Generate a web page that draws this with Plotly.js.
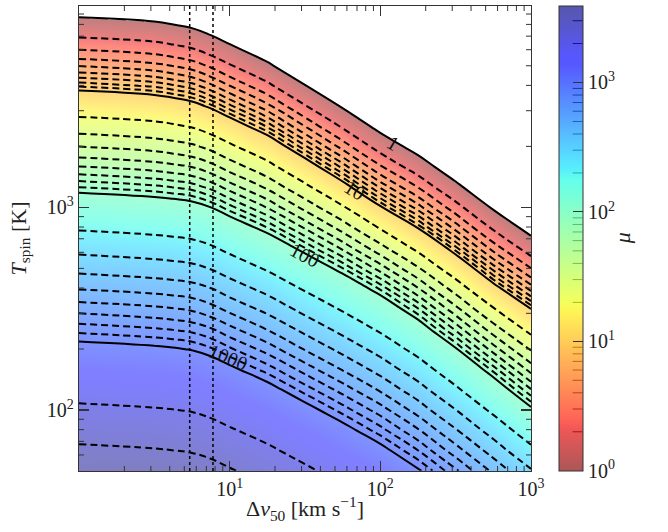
<!DOCTYPE html>
<html><head><meta charset="utf-8">
<script src="https://cdn.plot.ly/plotly-3.0.1.min.js"></script>
<style>html,body{margin:0;padding:0;background:#fff}#chart{width:668px;height:532px}</style>
</head><body><div id="chart"></div>
<script>
// ---- data ----
// grid columns: log10 of Δv50 [km/s]
const logDv = [0, 0.5, 0.625, 0.75, 0.875, 1.0, 1.25, 1.5, 1.75, 2.0, 2.25, 2.5, 2.75, 3.0];
// grid rows: log10 of T_spin [K]
const logT = [1.7,1.8,1.9,2.0,2.1,2.2,2.3,2.4,2.5,2.6,2.7,2.8,2.9,3.0,3.1,3.2,3.3,3.4,3.5,3.6,3.7,3.8,3.9,4.0];
// log10(mu) at each grid node (rows follow logT, columns follow logDv)
const logMu = [
  [3.590, 3.572, 3.564, 3.553, 3.528, 3.490, 3.418, 3.332, 3.238, 3.135, 3.014, 2.859, 2.681, 2.491],
  [3.504, 3.486, 3.478, 3.467, 3.442, 3.404, 3.332, 3.238, 3.140, 3.036, 2.904, 2.737, 2.555, 2.345],
  [3.418, 3.400, 3.392, 3.381, 3.356, 3.317, 3.238, 3.140, 3.042, 2.926, 2.787, 2.612, 2.417, 2.190],
  [3.332, 3.312, 3.304, 3.292, 3.264, 3.222, 3.140, 3.042, 2.932, 2.813, 2.662, 2.480, 2.264, 2.026],
  [3.238, 3.217, 3.209, 3.196, 3.167, 3.124, 3.042, 2.932, 2.819, 2.687, 2.535, 2.333, 2.105, 1.851],
  [3.140, 3.119, 3.111, 3.098, 3.069, 3.024, 2.932, 2.819, 2.693, 2.562, 2.394, 2.177, 1.935, 1.665],
  [3.042, 3.019, 3.009, 2.995, 2.963, 2.914, 2.819, 2.693, 2.569, 2.424, 2.240, 2.013, 1.744, 1.464],
  [2.932, 2.908, 2.898, 2.883, 2.851, 2.799, 2.693, 2.569, 2.432, 2.272, 2.080, 1.830, 1.541, 1.236],
  [2.819, 2.793, 2.781, 2.765, 2.728, 2.673, 2.569, 2.432, 2.280, 2.114, 1.906, 1.633, 1.314, 0.997],
  [2.693, 2.667, 2.656, 2.640, 2.604, 2.547, 2.432, 2.280, 2.122, 1.944, 1.706, 1.415, 1.063, 0.748],
  [2.569, 2.540, 2.528, 2.510, 2.470, 2.408, 2.280, 2.122, 1.954, 1.742, 1.492, 1.168, 0.818, 0.478],
  [2.432, 2.400, 2.386, 2.367, 2.323, 2.255, 2.122, 1.954, 1.760, 1.527, 1.249, 0.920, 0.555, 0.182],
  [2.280, 2.247, 2.233, 2.212, 2.166, 2.095, 1.954, 1.768, 1.555, 1.285, 0.992, 0.665, 0.267, -0.123],
  [2.122, 2.087, 2.072, 2.050, 2.001, 1.925, 1.773, 1.569, 1.325, 1.016, 0.743, 0.388, -0.037, -0.429],
  [1.954, 1.918, 1.901, 1.878, 1.825, 1.744, 1.582, 1.349, 1.068, 0.768, 0.473, 0.085, -0.343, -0.733],
  [1.782, 1.744, 1.724, 1.697, 1.640, 1.553, 1.372, 1.104, 0.824, 0.500, 0.176, -0.221, -0.648, -0.956],
  [1.602, 1.561, 1.537, 1.505, 1.438, 1.340, 1.135, 0.862, 0.560, 0.207, -0.129, -0.526, -0.900, -1.0],
  [1.405, 1.358, 1.328, 1.289, 1.211, 1.106, 0.894, 0.602, 0.273, -0.098, -0.435, -0.820, -1.0, -1.0],
  [1.182, 1.132, 1.099, 1.056, 0.973, 0.864, 0.637, 0.318, -0.031, -0.404, -0.739, -1.0, -1.0, -1.0],
  [0.945, 0.892, 0.856, 0.811, 0.722, 0.604, 0.358, 0.015, -0.337, -0.709, -0.960, -1.0, -1.0, -1.0],
  [0.692, 0.634, 0.596, 0.547, 0.451, 0.321, 0.055, -0.291, -0.642, -0.940, -1.0, -1.0, -1.0, -1.0],
  [0.418, 0.355, 0.312, 0.258, 0.152, 0.018, -0.251, -0.596, -0.896, -1.0, -1.0, -1.0, -1.0, -1.0],
  [0.116, 0.052, 0.009, -0.046, -0.153, -0.288, -0.557, -0.866, -1.0, -1.0, -1.0, -1.0, -1.0, -1.0],
  [-0.190, -0.254, -0.297, -0.352, -0.459, -0.593, -0.840, -1.0, -1.0, -1.0, -1.0, -1.0, -1.0, -1.0]
];
const muMax = 3900;                       // top of the colour bar
const solidLevels = [1, 10, 100, 1000];
const dashedLevels = [2,3,4,5,6,7,8,9,20,30,40,50,60,70,80,90,200,300,400,500,600,700,800,900,2000,3000];
const refDv = [5.43, 7.75];                // dotted vertical lines
const labelText = ['1', '10', '100', '1000'];
const labelDv = [121, 67.5, 31.5, 9.7];
const labelT = [2075, 1222, 585, 182];
const labelAngle = [31, 32, 28, 22];
const xTickVals = [10, 100, 1000];
const xTickText = ['10<sup>1</sup>', '10<sup>2</sup>', '10<sup>3</sup>'];
const yTickVals = [100, 1000];
const yTickText = ['10<sup>2</sup>', '10<sup>3</sup>'];
const cbTickVals = [1, 10, 100, 1000];
const cbTickText = ['10<sup>0</sup>', '10<sup>1</sup>', '10<sup>2</sup>', '10<sup>3</sup>'];
const xRange = [1, 1000];
const yRange = [50, 9860];

// ---- styling helpers ----
const L = Math.log10;
const zMax = L(muMax), zMin = -0.002;
const FILL_ALPHA = 0.5, BAR_ALPHA = 0.66;
const jetR = [[0,0],[0.35,0],[0.66,1],[0.89,1],[1,0.5]];
const jetG = [[0,0],[0.125,0],[0.375,1],[0.64,1],[0.91,0],[1,0]];
const jetB = [[0,0.5],[0.11,1],[0.34,1],[0.65,0],[1,0]];
function seg(pts, t){
  for (let i=0;i<pts.length-1;i++){
    const a=pts[i], b=pts[i+1];
    if (t<=b[0]) return a[1]+(b[1]-a[1])*(t-a[0])/(b[0]-a[0]);
  }
  return pts[pts.length-1][1];
}
function jet(t){return [seg(jetR,t),seg(jetG,t),seg(jetB,t)].map(v=>Math.round(v*255));}
function makeScale(alpha){
  const cs = [[0,'rgba(255,255,255,0)'],[0.0005,'rgba(255,255,255,0)']];
  const N = 80;
  for (let i=0;i<=N;i++){
    const z = zMax*i/N;
    const p = (z - zMin)/(zMax - zMin);
    const c = jet(1 - z/zMax);
    cs.push([i===N?1:p, `rgba(${c[0]},${c[1]},${c[2]},${alpha})`]);
  }
  return cs;
}
function minorTicks(lo, hi){
  const out=[];
  for (let d=lo; d<hi; d++) for (let k=2;k<=9;k++) out.push(L(k*Math.pow(10,d)));
  return out;
}
// geometry (plot-area fractions)
const M = {l:79, r:137, t:6, b:61};
const PLOT_W = 668 - M.l - M.r, PLOT_H = 532 - M.t - M.b;
const CB_X = 1.062, CB_THICK = 23.6;
const cbRight = CB_X + CB_THICK/PLOT_W, cbTick = 10/PLOT_W;
const MINOR = 5, TICKC = '#333';

const traces = [];
// filled field
traces.push({
  type:'heatmap', x: logDv, y: logT, z: logMu, zsmooth:'best',
  zmin: zMin, zmax: zMax, colorscale: makeScale(FILL_ALPHA), hoverinfo:'skip', showscale:false
});
// same field, invisible, only to carry the colour bar
traces.push({
  type:'heatmap', x: logDv, y: logT, z: logMu, zsmooth:'best', opacity: 0,
  zmin: zMin, zmax: zMax, colorscale: makeScale(BAR_ALPHA), hoverinfo:'skip',
  showscale: true,
  colorbar: {
    x: CB_X, xanchor:'left', y: 0.5, yanchor:'middle', len: 1, lenmode:'fraction',
    thickness: CB_THICK, thicknessmode:'pixels', xpad: 0, ypad: 0,
    outlinewidth: 1, outlinecolor:TICKC, bgcolor:'rgba(0,0,0,0)',
    ticks:'inside', ticklen: 10, tickwidth: 1, tickcolor:TICKC,
    tickmode:'array', tickvals: cbTickVals.map(L), ticktext: cbTickText,
    tickfont: {family:'Liberation Serif, serif', size: 20, color:'#222'}
  }
});
solidLevels.forEach(lv => traces.push({
  type:'contour', x: logDv, y: logT, z: logMu, showscale:false, hoverinfo:'skip',
  autocontour:false, contours:{start:L(lv), end:L(lv), size:1, coloring:'none', showlabels:false},
  line:{color:'#000', width:2, smoothing:1.3}
}));
dashedLevels.forEach(lv => traces.push({
  type:'contour', x: logDv, y: logT, z: logMu, showscale:false, hoverinfo:'skip',
  autocontour:false, contours:{start:L(lv), end:L(lv), size:1, coloring:'none', showlabels:false},
  line:{color:'#000', width:2, dash:'7px,4px', smoothing:1.3}
}));

const axisCommon = {
  type:'linear', showgrid:false, zeroline:false, showline:true, linecolor:TICKC, linewidth:1.2,
  mirror:'allticks', ticks:'inside', ticklen:10, tickwidth:1.2, tickcolor:TICKC,
  tickmode:'array', tickfont:{family:'Liberation Serif, serif', size:20, color:'#222'},
  automargin:false
};
const tickLine = {color:TICKC, width:1};
const shapes = [];
refDv.forEach(v => shapes.push({type:'line', xref:'x', yref:'paper', x0:L(v), x1:L(v), y0:0, y1:1,
  line:{color:'#000', width:1.5, dash:'dot'}}));
minorTicks(0,4).filter(v=>v<zMax).forEach(v => {
  const yy = (v - zMin)/(zMax - zMin);
  shapes.push({type:'line', xref:'paper', yref:'paper', x0:cbRight-cbTick, x1:cbRight, y0:yy, y1:yy, line:tickLine});
});
minorTicks(0,3).forEach(v => {
  shapes.push({type:'line', xref:'x', yref:'paper', x0:v, x1:v, y0:0, y1:MINOR/PLOT_H, line:tickLine});
  shapes.push({type:'line', xref:'x', yref:'paper', x0:v, x1:v, y0:1, y1:1-MINOR/PLOT_H, line:tickLine});
});
minorTicks(1,4).filter(v=>v>L(yRange[0]) && v<L(yRange[1])).forEach(v => {
  shapes.push({type:'line', xref:'paper', yref:'y', x0:0, x1:MINOR/PLOT_W, y0:v, y1:v, line:tickLine});
  shapes.push({type:'line', xref:'paper', yref:'y', x0:1, x1:1-MINOR/PLOT_W, y0:v, y1:v, line:tickLine});
});

const layout = {
  width: 668, height: 532,
  margin: {l:M.l, r:M.r, t:M.t, b:M.b, pad:0},
  paper_bgcolor:'#fff', plot_bgcolor:'#fff', showlegend:false,
  font:{family:'Liberation Serif, serif', size:20, color:'#222'},
  xaxis: Object.assign({}, axisCommon, {
    range: xRange.map(L), tickvals: xTickVals.map(L), ticktext: xTickText,
    title:{text:'Δ<i>v</i><sub>50</sub> [km s<sup>−1</sup>]', font:{size:22, color:'#222'}, standoff:1}
  }),
  yaxis: Object.assign({}, axisCommon, {
    range: yRange.map(L), tickvals: yTickVals.map(L), ticktext: yTickText,
    title:{text:'<i>T</i><sub>spin</sub> [K]', font:{size:22, color:'#222'}, standoff:14}
  }),
  shapes: shapes,
  annotations: labelText.map((t,i) => ({
    text:t, xref:'x', yref:'y', x:L(labelDv[i]), y:L(labelT[i]), showarrow:false,
    textangle: labelAngle[i], font:{family:'Liberation Serif, serif', size:20, color:'#111'}
  })).concat([{
    text:'<i>μ</i>', xref:'paper', yref:'paper', x:1.235, y:0.5, showarrow:false, textangle:-90,
    font:{family:'Liberation Serif, serif', size:22, color:'#222'}
  }])
};
Plotly.newPlot('chart', traces, layout, {displayModeBar:false, staticPlot:true});
</script></body></html>
